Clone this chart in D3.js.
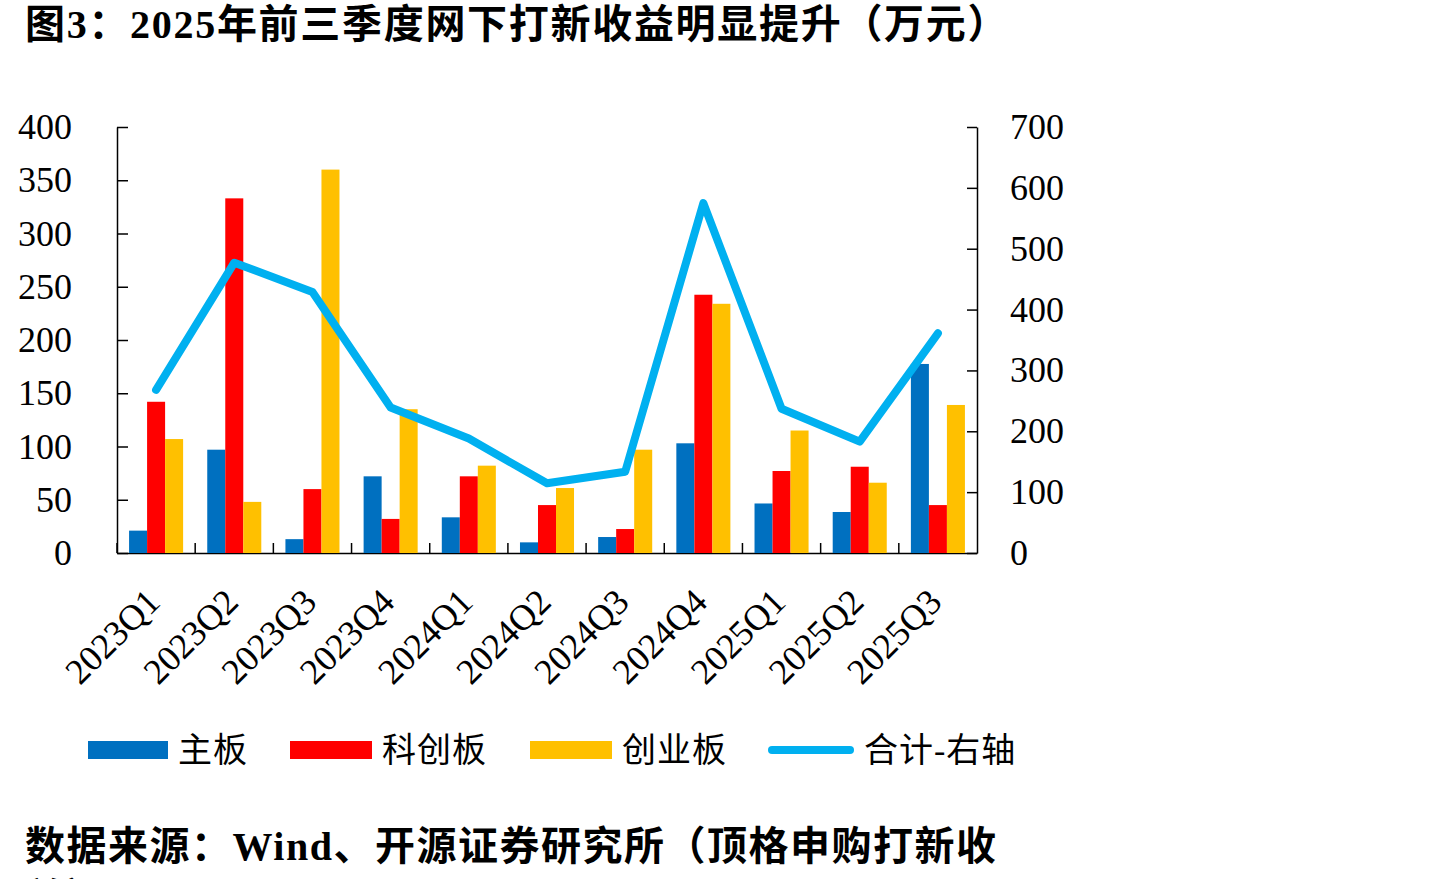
<!DOCTYPE html>
<html>
<head>
<meta charset="utf-8">
<script src="https://cdn.jsdelivr.net/npm/d3@7"></script>
<style>
  html, body { margin: 0; padding: 0; background: #fff; }
  svg { display: block; }
</style>
</head>
<body>
<div id="chart"></div>
<script>
// Quarterly offline IPO subscription gains (万元), bars on left axis, total on right axis

const categories = ['2023Q1', '2023Q2', '2023Q3', '2023Q4', '2024Q1', '2024Q2',
    '2024Q3', '2024Q4', '2025Q1', '2025Q2', '2025Q3'];
const seriesNames = ['主板', '科创板', '创业板'];
const mainBoard = [21, 97, 13, 72, 33.5, 10, 15, 103, 46.5, 38.5, 177.5];
const starMarket = [142, 333, 60, 32, 72, 45, 22.5, 242.5, 77, 81, 45];
const chinext = [107, 48, 360, 135, 82, 61, 97, 234, 115, 66, 139];
const totalRight = [268, 477, 429, 239, 188, 114.5, 133.5, 575, 237, 183, 361];
const totalName = '合计-右轴';
const leftTicks = [0, 50, 100, 150, 200, 250, 300, 350, 400];
const rightTicks = [0, 100, 200, 300, 400, 500, 600, 700];
const titleText = '图3：2025年前三季度网下打新收益明显提升（万元）';
const sourceLines = ['数据来源：Wind、开源证券研究所（顶格申购打新收', '益）'];

const COLORS = {
    bars: ['#0070C0', '#FF0000', '#FFC000'],
    line: '#00B0F0',
    axis: '#000'
};
const FONT = '"Liberation Serif", "Times New Roman", "Noto Sans CJK SC", serif';
const CJK_FONT = '"Liberation Serif", "Noto Sans CJK SC", sans-serif';

const width = 1440;
const height = 879;
const plot = { left: 117, right: 977, top: 127, bottom: 553 };

const svg = d3.select('#chart')
    .append('svg')
    .attr('width', width)
    .attr('height', height)
    .style('background', '#fff');

// Scales
const x = d3.scaleBand()
    .domain(categories)
    .range([plot.left, plot.right])
    .paddingInner(0)
    .paddingOuter(0);

const xs = d3.scaleBand()
    .domain(seriesNames)
    .range([0, x.bandwidth()])
    .paddingInner(0)
    .paddingOuter(0.67);

const yLeft = d3.scaleLinear().domain([0, 400]).range([plot.bottom, plot.top]);
const yRight = d3.scaleLinear().domain([0, 700]).range([plot.bottom, plot.top]);

// Title
svg.append('text')
    .attr('x', 25)
    .attr('y', 38)
    .attr('font-family', CJK_FONT)
    .attr('font-weight', 'bold')
    .attr('font-size', 40)
    .attr('letter-spacing', 1.7)
    .attr('fill', '#000')
    .text(titleText);

// Axes
const leftAxis = svg.append('g')
    .attr('transform', `translate(${plot.left},0)`)
    .call(d3.axisLeft(yLeft).tickValues(leftTicks).tickSizeInner(-11).tickSizeOuter(0).tickPadding(45));

const rightAxis = svg.append('g')
    .attr('transform', `translate(${plot.right},0)`)
    .call(d3.axisRight(yRight).tickValues(rightTicks).tickSizeInner(-10).tickSizeOuter(0).tickPadding(33));

[leftAxis, rightAxis].forEach(ax => {
    ax.selectAll('path, line').attr('stroke', COLORS.axis).attr('stroke-width', 1.5);
    ax.selectAll('text')
        .attr('font-family', FONT)
        .attr('font-size', 36)
        .attr('fill', '#000');
});

// X axis: baseline, boundary ticks, rotated labels
const xAxis = svg.append('g')
    .attr('transform', `translate(0,${plot.bottom})`)
    .call(d3.axisBottom(x).tickSize(0).tickPadding(0));

xAxis.select('.domain').attr('stroke', COLORS.axis).attr('stroke-width', 1.5);

xAxis.selectAll('.tick text')
    .attr('font-family', FONT)
    .attr('font-size', 36)
    .attr('fill', '#000')
    .attr('text-anchor', 'end')
    .attr('y', 0)
    .attr('dy', '0.35em')
    .attr('transform', 'translate(-3,42) rotate(-45)');

svg.append('g')
    .selectAll('line')
    .data(categories)
    .enter()
    .append('line')
    .attr('x1', d => x(d))
    .attr('x2', d => x(d))
    .attr('y1', plot.bottom)
    .attr('y2', plot.bottom - 10)
    .attr('stroke', COLORS.axis)
    .attr('stroke-width', 1.5);

// Bars
const barSeries = [mainBoard, starMarket, chinext];
const groups = svg.append('g')
    .selectAll('g')
    .data(barSeries)
    .enter()
    .append('g')
    .attr('fill', (d, i) => COLORS.bars[i]);

groups.each(function (values, si) {
    d3.select(this).selectAll('rect')
        .data(values)
        .enter()
        .append('rect')
        .attr('x', (v, i) => x(categories[i]) + xs(seriesNames[si]))
        .attr('width', xs.bandwidth())
        .attr('y', v => yLeft(v))
        .attr('height', v => yLeft(0) - yLeft(v));
});

// Total line on right axis
const line = d3.line()
    .x((v, i) => x(categories[i]) + x.bandwidth() / 2)
    .y(v => yRight(v));

svg.append('path')
    .datum(totalRight)
    .attr('fill', 'none')
    .attr('stroke', COLORS.line)
    .attr('stroke-width', 8)
    .attr('stroke-linecap', 'round')
    .attr('stroke-linejoin', 'round')
    .attr('d', line);

// Legend
const legendY = 750;
const legendItems = [
    { name: seriesNames[0], type: 'rect', color: COLORS.bars[0], x0: 88, x1: 168 },
    { name: seriesNames[1], type: 'rect', color: COLORS.bars[1], x0: 290, x1: 372 },
    { name: seriesNames[2], type: 'rect', color: COLORS.bars[2], x0: 530, x1: 612 },
    { name: totalName, type: 'line', color: COLORS.line, x0: 768, x1: 854 }
];

const legend = svg.append('g');
legendItems.forEach(item => {
    if (item.type === 'rect') {
        legend.append('rect')
            .attr('x', item.x0)
            .attr('y', legendY - 9)
            .attr('width', item.x1 - item.x0)
            .attr('height', 18)
            .attr('fill', item.color);
    } else {
        legend.append('line')
            .attr('x1', item.x0 + 4)
            .attr('x2', item.x1 - 4)
            .attr('y1', legendY)
            .attr('y2', legendY)
            .attr('stroke', item.color)
            .attr('stroke-width', 8)
            .attr('stroke-linecap', 'round');
    }
    legend.append('text')
        .attr('x', item.x1 + 10)
        .attr('y', legendY)
        .attr('dy', '0.36em')
        .attr('font-family', CJK_FONT)
        .attr('font-size', 34)
        .attr('letter-spacing', 1)
        .attr('fill', '#000')
        .text(item.name);
});

// Source note (second line runs past the bottom edge, as in the reference)
svg.append('g')
    .selectAll('text')
    .data(sourceLines)
    .enter()
    .append('text')
    .attr('x', 25)
    .attr('y', (d, i) => 860 + i * 52)
    .attr('font-family', CJK_FONT)
    .attr('font-weight', 'bold')
    .attr('font-size', 40)
    .attr('letter-spacing', 1.5)
    .attr('fill', '#000')
    .text(d => d);
</script>
</body>
</html>
